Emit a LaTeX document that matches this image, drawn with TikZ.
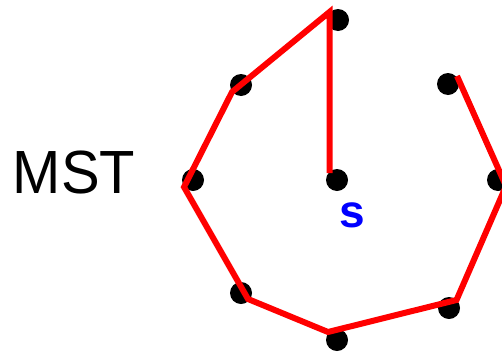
\documentclass[tikz,border=0pt]{standalone}
\usepackage{fontspec}
\setmainfont{Liberation Sans}

\begin{document}
\begin{tikzpicture}[x=1pt,y=-1pt]
	\useasboundingbox (0,0) rectangle (502,351);
	\def\r{11pt}
	
	% the vertices
	\coordinate (top) at (338,20);
	\coordinate (ul) at (241,85);
	\coordinate (l) at (193,180);
	\coordinate (c) at (337,180);
	\coordinate (ll) at (241,293);
	\coordinate (b) at (337,340);
	\coordinate (lr) at (449,308);
	\coordinate (r) at (498,180);
	\coordinate (ur) at (448,84);
	
	\foreach \v in {top,ul,l,c,ll,b,lr,r,ur}
		\fill (\v) circle (\r);
	
	% tree edges, drawn a bit off the dots
	\coordinate (Rc) at (329.5,173);
	\coordinate (Rtop) at (329.5,12);
	\coordinate (Rul) at (232,92);
	\coordinate (Rl) at (184,187);
	\coordinate (Rll) at (248,299);
	\coordinate (Rb) at (328,332);
	\coordinate (Rlr) at (456.5,300);
	\coordinate (Rr) at (506,186);
	\coordinate (Rur) at (457,76);
	
	\draw[red,line width=6pt] (Rc)--(Rtop)--(Rul)--(Rl)--(Rll)--(Rb)--(Rlr)--(Rr)--(Rur);
	
	\node[inner sep=0,xscale=0.95] (mst) at (74,172.5) {\fontsize{61}{61}\selectfont MST};
	\node[inner sep=0,text=blue] (s) at (352.5,215) {\fontsize{46}{46}\selectfont\bfseries s};
\end{tikzpicture}
\end{document}
